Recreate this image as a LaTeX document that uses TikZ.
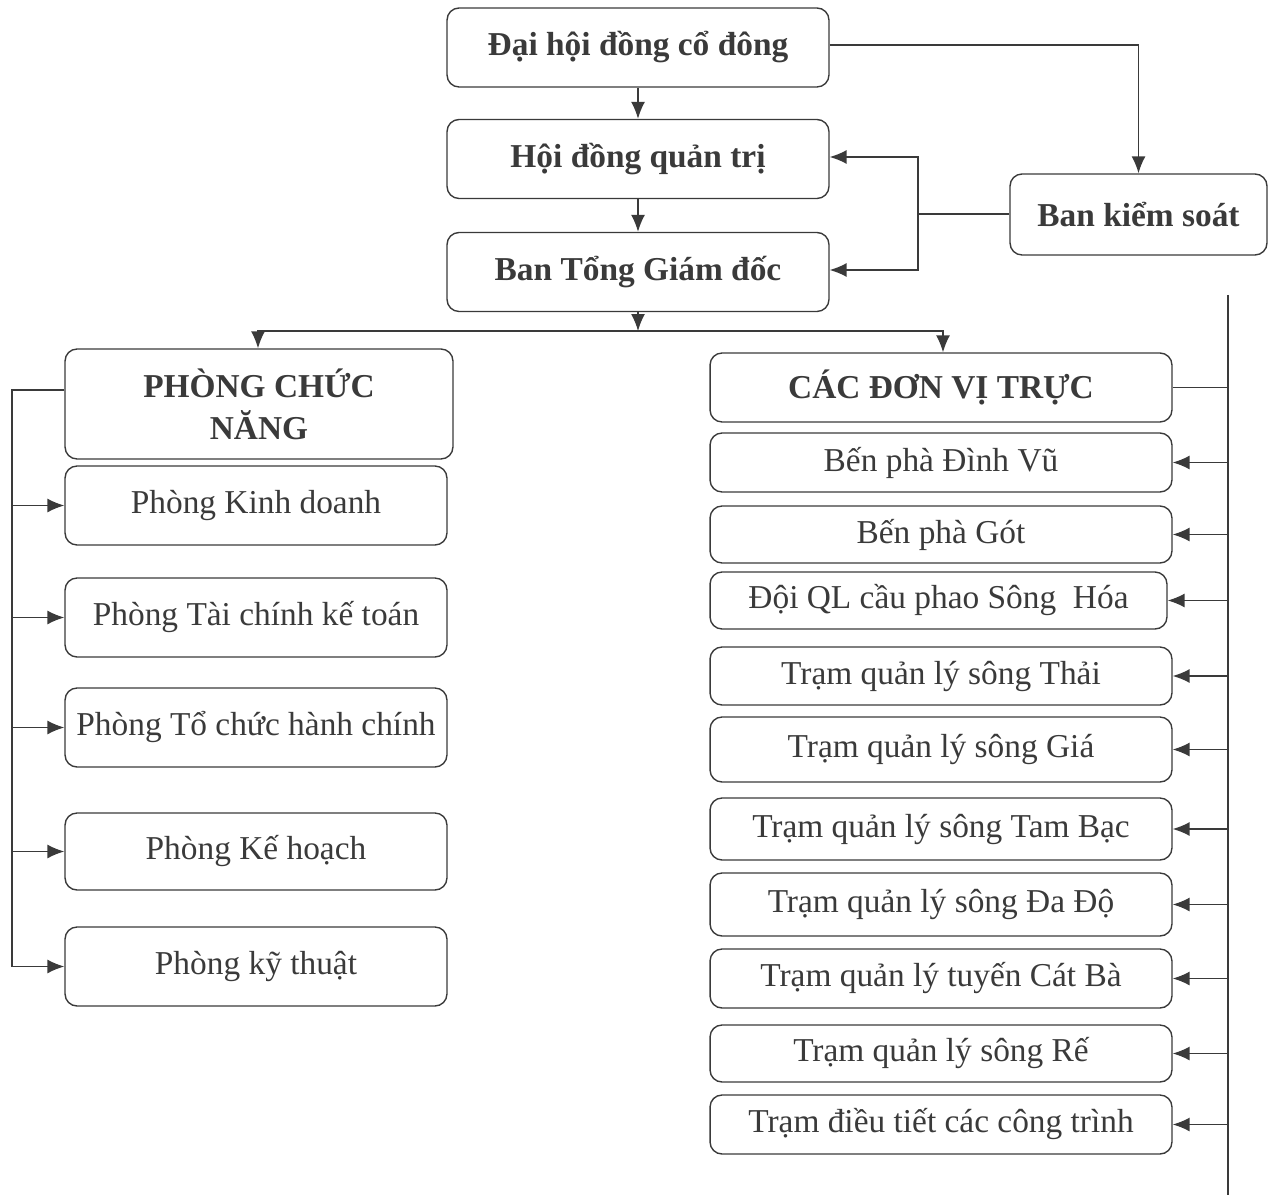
\documentclass[tikz,border=0pt]{standalone}
\usepackage{fontspec}
\setmainfont{Liberation Serif}
\usepackage{tikz}
\usetikzlibrary{arrows.meta}
\definecolor{ink}{HTML}{3A3A3A}
\newcommand{\boxfont}{\fontsize{19}{24}\selectfont}

\begin{document}
\begin{tikzpicture}[x=0.02cm,y=-0.02cm,
  box/.style={draw=ink,text=ink,rounded corners=0.24cm,line width=0.8pt,inner sep=0pt,align=center,font=\boxfont},
  headbox/.style={box,font=\boxfont\bfseries},
  link/.style={draw=ink,line width=0.8pt},
  >={Latex[length=3.4mm,width=2.8mm]}]
\useasboundingbox (0,0) rectangle (1273,1195);

% top of the company
\node[headbox,minimum width=7.64cm,minimum height=1.58cm] (dhd) at (638,47.5) {Đại hội đồng cổ đông};
\node[headbox,minimum width=7.64cm,minimum height=1.58cm] (hdqt) at (638,159) {Hội đồng quản trị};
\node[headbox,minimum width=7.64cm,minimum height=1.58cm] (btgd) at (638,272) {Ban Tổng Giám đốc};
\node[headbox,minimum width=5.14cm,minimum height=1.62cm] (bks) at (1138.5,214.5) {Ban kiểm soát};

\draw[link,->] (dhd) -- (hdqt);
\draw[link,->] (hdqt) -- (btgd);
\draw[link,->] (dhd.east |- 0,45) -| (bks.north);
\coordinate (kspl) at (918,214);
\draw[link] (bks.west |- kspl) -- (kspl);
\draw[link,->] (kspl) |- (hdqt.east |- 0,157);
\draw[link,->] (kspl) |- (btgd.east |- 0,270);

% the two branches
\node[headbox,minimum width=7.76cm,minimum height=2.2cm] (pcn) at (259,404) {PHÒNG CHỨC\\NĂNG};
\node[headbox,minimum width=9.24cm,minimum height=1.38cm] (cdvt) at (941,387.5) {CÁC ĐƠN VỊ TRỰC};

\coordinate (split) at (638,331);
\draw[link,->] (btgd) -- (split);
\draw[link,->] (split) -| (pcn.north -| 258,0);
\draw[link,->] (split) -| (cdvt.north -| 943,0);

% phong chuc nang
\node[box,minimum width=7.64cm,minimum height=1.58cm] (p1) at (256,505.5) {Phòng Kinh doanh};
\node[box,minimum width=7.64cm,minimum height=1.58cm] (p2) at (256,617.5) {Phòng Tài chính kế toán};
\node[box,minimum width=7.64cm,minimum height=1.58cm] (p3) at (256,727.5) {Phòng Tổ chức hành chính};
\node[box,minimum width=7.64cm,minimum height=1.54cm] (p4) at (256,851.5) {Phòng Kế hoạch};
\node[box,minimum width=7.64cm,minimum height=1.58cm] (p5) at (256,966.5) {Phòng kỹ thuật};

\coordinate (lbus) at (12,390);
\draw[link] (pcn.west |- lbus) -- (lbus) -- (lbus |- p5.west);
\draw[link,->] (lbus |- p1.west) -- (p1.west);
\draw[link,->] (lbus |- p2.west) -- (p2.west);
\draw[link,->] (lbus |- p3.west) -- (p3.west);
\draw[link,->] (lbus |- p4.west) -- (p4.west);
\draw[link,->] (lbus |- p5.west) -- (p5.west);

% don vi truc thuoc
\node[box,minimum width=9.24cm,minimum height=1.18cm] (d1) at (941,462.5) {\raisebox{-3pt}{Bến phà Đình Vũ}};
\node[box,minimum width=9.24cm,minimum height=1.14cm] (d2) at (941,534.5) {\raisebox{-5pt}{Bến phà Gót}};
\node[box,minimum width=9.14cm,minimum height=1.14cm] (d3) at (938.5,600.5) {\raisebox{-3pt}{Đội QL cầu phao Sông~ Hóa}};
\node[box,minimum width=9.24cm,minimum height=1.16cm] (d4) at (941,676) {\raisebox{-3pt}{Trạm quản lý sông Thải}};
\node[box,minimum width=9.24cm,minimum height=1.3cm] (d5) at (941,749.5) {Trạm quản lý sông Giá};
\node[box,minimum width=9.24cm,minimum height=1.24cm] (d6) at (941,829) {Trạm quản lý sông Tam Bạc};
\node[box,minimum width=9.24cm,minimum height=1.26cm] (d7) at (941,904.5) {\raisebox{-3pt}{Trạm quản lý sông Đa Độ}};
\node[box,minimum width=9.24cm,minimum height=1.18cm] (d8) at (941,978.5) {\raisebox{-3pt}{Trạm quản lý tuyến Cát Bà}};
\node[box,minimum width=9.24cm,minimum height=1.14cm] (d9) at (941,1053.5) {\raisebox{-3pt}{Trạm quản lý sông Rế}};
\node[box,minimum width=9.24cm,minimum height=1.18cm] (d10) at (941,1124.5) {Trạm điều tiết các công trình};

\coordinate (rtop) at (1228,295);
\coordinate (rbot) at (1228,1195);
\draw[link] (rtop) -- (rbot);
\draw[link] (cdvt.east) -- (rtop |- cdvt.east);
\draw[link,->] (rtop |- d1.east) -- (d1.east);
\draw[link,->] (rtop |- d2.east) -- (d2.east);
\draw[link,->] (rtop |- d3.east) -- (d3.east);
\draw[link,->] (rtop |- d4.east) -- (d4.east);
\draw[link,->] (rtop |- d5.east) -- (d5.east);
\draw[link,->] (rtop |- d6.east) -- (d6.east);
\draw[link,->] (rtop |- d7.east) -- (d7.east);
\draw[link,->] (rtop |- d8.east) -- (d8.east);
\draw[link,->] (rtop |- d9.east) -- (d9.east);
\draw[link,->] (rtop |- d10.east) -- (d10.east);
\end{tikzpicture}
\end{document}
